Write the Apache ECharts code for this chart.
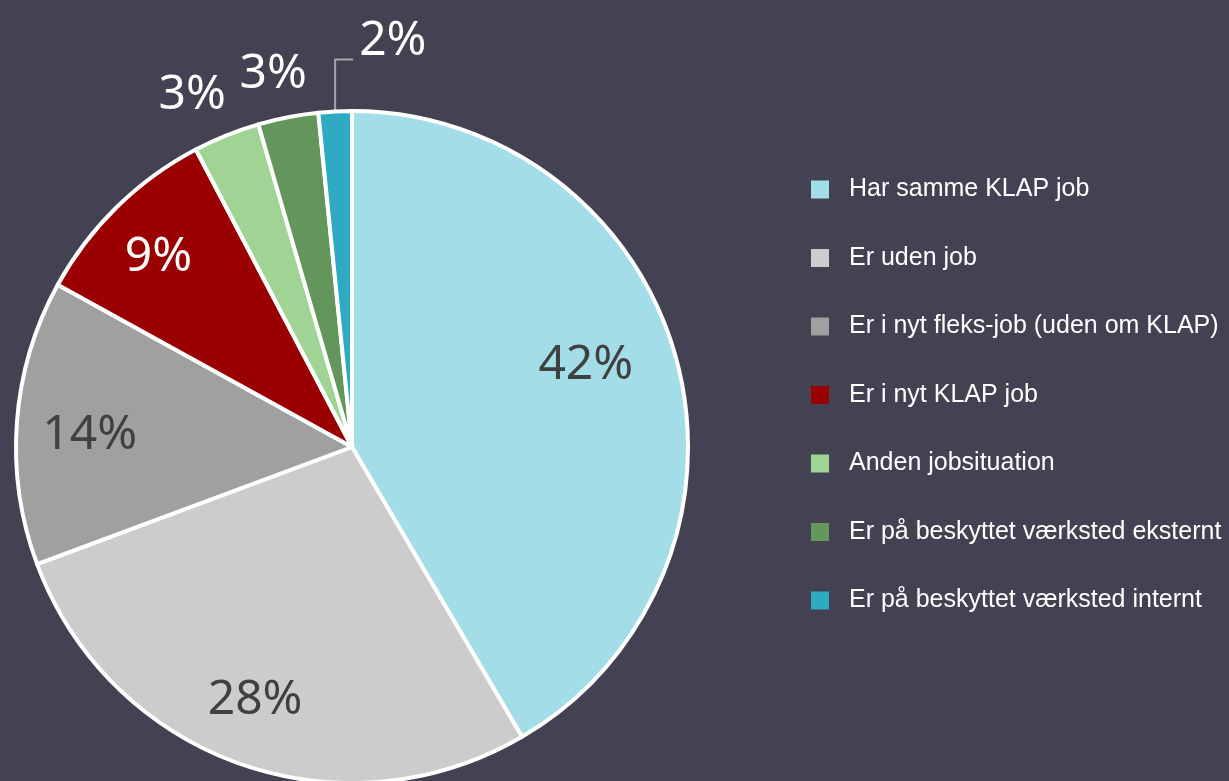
<!DOCTYPE html>
<html>
<head>
<meta charset="utf-8">
<style>
  html, body { margin: 0; padding: 0; background: #424253; }
  #chart { width: 1229px; height: 781px; }
</style>
<script src="https://cdn.jsdelivr.net/npm/echarts@6/dist/echarts.min.js"></script>
</head>
<body>
<div id="chart"></div>
<script>
// jobsituation efter KLAP-forløb (andel i %)
const categories = [
  'Har samme KLAP job',
  'Er uden job',
  'Er i nyt fleks-job (uden om KLAP)',
  'Er i nyt KLAP job',
  'Anden jobsituation',
  'Er på beskyttet værksted eksternt',
  'Er på beskyttet værksted internt'
]
const shares = [41.6, 27.8, 13.7, 9.3, 3.2, 2.9, 1.6]

const colors = ['#a2dde8', '#cccccc', '#a0a0a0', '#9b0000', '#a0d495', '#62965a', '#2eaac3']
const darkText = '#404040'

const R = 336
const center = [352, 447]
const labelFont = '"Noto Sans", "Open Sans", sans-serif'

const pct = p => Math.round(p.percent) + '%'

// slices big enough to carry their label inside
const isBig = v => v >= 5

const chart = echarts.init(document.getElementById('chart'))

// small nudges so the labels sit like excel's "best fit"
function nudge(i) {
  const n = { 0: [-22, -12], 1: [-8, 4], 2: [2, 8], 3: [-8, 0], 4: [-15, 8], 5: [-5, 8] }
  return n[i] || [0, 0]
}

const mainData = categories.map((name, i) => ({
  name,
  value: shares[i],
  itemStyle: { color: colors[i] },
  // only the smallest slice gets an outside label with a leader line
  label: { show: i === shares.length - 1 },
  labelLine: { show: i === shares.length - 1 }
}))

const innerLabels = categories.map((name, i) => ({
  name,
  value: shares[i],
  label: { show: isBig(shares[i]), color: i === 3 ? '#ffffff' : darkText, offset: nudge(i) }
}))

const outerLabels = categories.map((name, i) => ({
  name,
  value: shares[i],
  label: { show: !isBig(shares[i]) && i !== shares.length - 1, offset: nudge(i) }
}))

const helper = {
  type: 'pie',
  center,
  startAngle: 90,
  silent: true,
  animation: false,
  itemStyle: { color: 'transparent', borderWidth: 0 },
  emphasis: { disabled: true },
  labelLine: { show: false },
  tooltip: { show: false }
}

chart.setOption({
  backgroundColor: '#424253',
  animation: false,
  legend: {
    orient: 'vertical',
    left: 806,
    top: 172,
    itemWidth: 18,
    itemHeight: 18,
    itemGap: 43.5,
    icon: 'rect',
    selectedMode: false,
    data: categories,
    itemStyle: { borderWidth: 0 },
    textStyle: {
      color: '#ffffff',
      fontSize: 25,
      fontFamily: '"Liberation Sans", Arial, sans-serif',
      padding: [0, 0, 0, 15]
    }
  },
  series: [
    {
      name: 'main',
      type: 'pie',
      center,
      radius: [0, R],
      startAngle: 90,
      silent: true,
      itemStyle: { borderColor: '#ffffff', borderWidth: 4 },
      label: {
        position: 'outside',
        formatter: pct,
        color: '#ffffff',
        fontSize: 48,
        fontFamily: labelFont
      },
      labelLine: {
        length: 50,
        length2: 18,
        lineStyle: { color: '#a6a6a6', width: 2 }
      },
      labelLayout: function (params) {
        const p = params.labelLinePoints
        if (!p) return {}
        const x0 = p[0][0]
        const y0 = p[0][1]
        return {
          x: x0 + 24,
          y: y0 - 46,
          align: 'left',
          verticalAlign: 'bottom',
          labelLinePoints: [[x0, y0], [x0, y0 - 52], [x0 + 18, y0 - 52]]
        }
      },
      data: mainData
    },
    Object.assign({}, helper, {
      name: 'inner',
      radius: [R * 0.56, R],
      label: {
        position: 'inside',
        formatter: pct,
        fontSize: 48,
        fontFamily: labelFont
      },
      data: innerLabels
    }),
    Object.assign({}, helper, {
      name: 'outer',
      radius: [R * 1.1, R * 1.19],
      label: {
        position: 'inside',
        formatter: pct,
        color: '#ffffff',
        fontSize: 48,
        fontFamily: labelFont
      },
      data: outerLabels
    })
  ]
})
</script>
</body>
</html>
